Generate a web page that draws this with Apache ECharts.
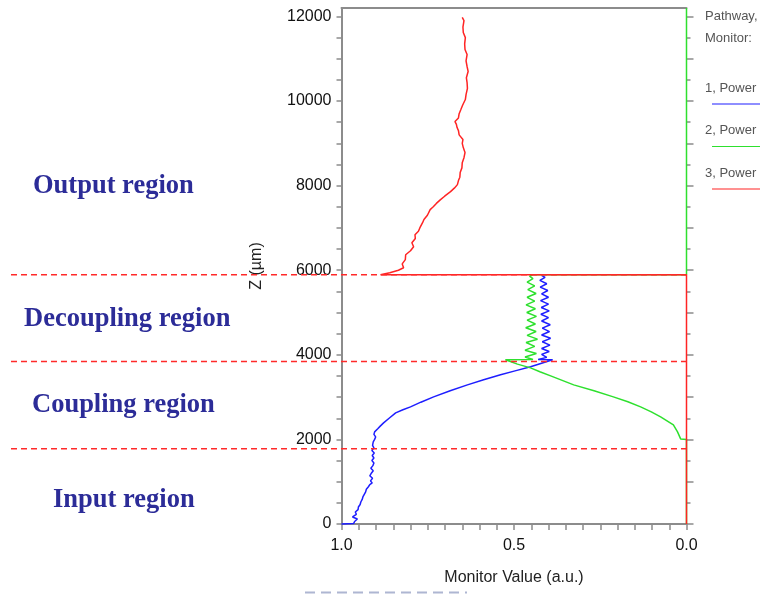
<!DOCTYPE html>
<html>
<head>
<meta charset="utf-8">
<script src="https://cdn.jsdelivr.net/npm/echarts@6/dist/echarts.min.js"></script>
<style>
html, body { margin: 0; padding: 0; background: #fff; }
#echart1 { width: 763px; height: 594px; }
</style>
</head>
<body>
<div id="echart1"></div>
<script>
// pathway monitors, [z (um), monitor value]
const seriesNames = ['1, Power', '2, Power', '3, Power'];
const seriesColors = ['#1e1eff', '#2ee02e', '#ff2424'];

const pathway1 = [
    [0, 1.000], [10, 0.965], [60, 0.962], [118, 0.954], [166, 0.968], [230, 0.957], [284, 0.960],
    [340, 0.952], [402, 0.951], [460, 0.946], [520, 0.944], [580, 0.940], [639, 0.938], [700, 0.934],
    [760, 0.930], [820, 0.928], [880, 0.922], [930, 0.918], [970, 0.911], [1020, 0.916], [1080, 0.910],
    [1140, 0.918], [1207, 0.913], [1260, 0.908], [1320, 0.915], [1380, 0.909], [1444, 0.906],
    [1500, 0.912], [1560, 0.906], [1620, 0.911], [1680, 0.905], [1740, 0.912], [1800, 0.906],
    [1860, 0.910], [1941, 0.908], [2000, 0.904], [2059, 0.901], [2120, 0.906], [2178, 0.904],
    [2250, 0.895], [2320, 0.887], [2390, 0.878], [2500, 0.862], [2627, 0.843], [2700, 0.822],
    [2769, 0.800], [2880, 0.770], [3006, 0.733], [3150, 0.685], [3290, 0.635], [3410, 0.588],
    [3527, 0.539], [3620, 0.497], [3716, 0.452], [3800, 0.420], [3882, 0.388],
    [3890, 0.430], [3940, 0.405], [4010, 0.420], [4080, 0.398], [4150, 0.420], [4230, 0.396],
    [4310, 0.418], [4390, 0.394], [4470, 0.420], [4550, 0.397], [4630, 0.418], [4710, 0.395],
    [4800, 0.420], [4880, 0.400], [4960, 0.422], [5040, 0.398], [5120, 0.421], [5200, 0.400],
    [5280, 0.423], [5360, 0.400], [5440, 0.420], [5520, 0.402], [5600, 0.424], [5680, 0.405],
    [5760, 0.425], [5830, 0.410], [5880, 0.420], [5893, 0.420]
];

const pathway2 = [
    [0, 0], [2000, 0], [2012, 0.017], [2178, 0.026], [2343, 0.038], [2533, 0.075], [2650, 0.102],
    [2769, 0.133], [2890, 0.170], [3006, 0.212], [3150, 0.268], [3290, 0.327], [3490, 0.390],
    [3600, 0.425], [3692, 0.452], [3780, 0.490], [3882, 0.525],
    [3890, 0.445], [3950, 0.468], [4030, 0.435], [4110, 0.468], [4200, 0.440], [4290, 0.465],
    [4370, 0.432], [4460, 0.462], [4550, 0.436], [4640, 0.466], [4730, 0.438], [4820, 0.462],
    [4910, 0.435], [5000, 0.463], [5090, 0.438], [5180, 0.465], [5270, 0.440], [5360, 0.462],
    [5450, 0.436], [5540, 0.460], [5630, 0.440], [5720, 0.462], [5800, 0.445], [5860, 0.455],
    [5893, 0.445], [5893, 0], [12200, 0]
];

const pathway3 = [
    [0, 0], [5893, 0], [5893, 0.887], [5940, 0.860], [6000, 0.835], [6059, 0.820], [6150, 0.824],
    [6250, 0.815], [6367, 0.814], [6460, 0.800], [6556, 0.791], [6650, 0.796], [6750, 0.786],
    [6840, 0.787], [6920, 0.777], [7000, 0.773], [7124, 0.765], [7200, 0.761], [7300, 0.751],
    [7432, 0.743], [7500, 0.734], [7580, 0.725], [7669, 0.713], [7750, 0.701], [7858, 0.684],
    [7940, 0.673], [8024, 0.664], [8120, 0.661], [8200, 0.657], [8308, 0.656], [8420, 0.651],
    [8544, 0.650], [8660, 0.645], [8781, 0.642], [8900, 0.647], [9000, 0.650], [9089, 0.648],
    [9200, 0.659], [9300, 0.661], [9373, 0.665], [9450, 0.667], [9515, 0.671], [9600, 0.661],
    [9700, 0.659], [9799, 0.654], [9900, 0.649], [10036, 0.641], [10150, 0.639], [10300, 0.635],
    [10438, 0.636], [10550, 0.638], [10700, 0.633], [10817, 0.636], [10950, 0.639], [11100, 0.636],
    [11219, 0.642], [11350, 0.643], [11500, 0.641], [11621, 0.647], [11750, 0.648], [11900, 0.645],
    [11976, 0.650]
];

const yTickLabels = [0, 2000, 4000, 6000, 8000, 10000, 12000];
const xTickLabels = [0, 0.5, 1];
const regionBounds = [1780, 3840, 5893];
const regionNames = ['Output region', 'Decoupling region', 'Coupling region', 'Input region'];
const legendHead = ['Pathway,', 'Monitor:'];

const dom = document.querySelector('#echart1');
const myChart = echarts.init(dom);

const axisGrey = '#8c8c8c';
const yTicks500 = [];
for (let v = 0; v <= 12000; v += 500) yTicks500.push(v);
const yTicks1000 = yTicks500.filter(v => v % 1000 === 0);
const xTicks = [];
for (let i = 0; i <= 20; i++) xTicks.push(+(i * 0.05).toFixed(2));

const toXY = arr => arr.map(p => [p[1], p[0]]);

const option = {
    animation: false,
    grid: { left: 341.5, right: 76.5, top: 8, bottom: 70 },
    xAxis: [
        {
            type: 'value', min: 0, max: 1, inverse: true, position: 'bottom',
            name: 'Monitor Value (a.u.)', nameLocation: 'middle', nameGap: 46,
            nameTextStyle: { fontFamily: 'Liberation Sans', fontSize: 16, color: '#222' },
            axisLine: { onZero: false, lineStyle: { color: axisGrey, width: 2 } },
            axisTick: { customValues: xTicks, length: 6, lineStyle: { color: axisGrey, width: 1.5 } },
            axisLabel: {
                customValues: xTickLabels, margin: 14,
                fontFamily: 'Liberation Sans', fontSize: 16, color: '#111',
                formatter: v => v.toFixed(1)
            },
            splitLine: { show: false }
        },
        {
            type: 'value', min: 0, max: 1, inverse: true, position: 'top',
            axisLine: { onZero: false, lineStyle: { color: axisGrey, width: 2 } },
            axisTick: { show: false }, axisLabel: { show: false }, splitLine: { show: false }
        }
    ],
    yAxis: [
        {
            type: 'value', min: 0, max: 12200, position: 'left',
            name: 'Z (µm)', nameLocation: 'middle', nameGap: 77, nameRotate: 90,
            nameTextStyle: { fontFamily: 'Liberation Sans', fontSize: 16, color: '#222' },
            axisLine: { onZero: false, lineStyle: { color: axisGrey, width: 2 } },
            axisTick: { customValues: yTicks500, length: 5, lineStyle: { color: axisGrey, width: 1.5 } },
            axisLabel: {
                customValues: yTickLabels, margin: 10,
                fontFamily: 'Liberation Sans', fontSize: 16, color: '#111',
                formatter: v => String(v)
            },
            splitLine: { show: false }
        },
        {
            type: 'value', min: 0, max: 12200, position: 'right',
            axisLine: { show: false, onZero: false },
            axisTick: { customValues: yTicks1000, length: 7, lineStyle: { color: axisGrey, width: 1.5 } },
            axisLabel: { show: false }, splitLine: { show: false }
        },
        {
            type: 'value', min: 0, max: 12200, position: 'right',
            axisLine: { show: false, onZero: false },
            axisTick: { customValues: yTicks500, length: 4, lineStyle: { color: axisGrey, width: 1.5 } },
            axisLabel: { show: false }, splitLine: { show: false }
        }
    ],
    series: [pathway1, pathway2, pathway3].map((d, i) => ({
        name: seriesNames[i],
        type: 'line',
        data: toXY(d),
        showSymbol: false,
        clip: false,
        lineStyle: { color: seriesColors[i], width: 1.5 },
        itemStyle: { color: seriesColors[i] }
    }))
};
myChart.setOption(option);

// boundaries and labels placed through the axes
const gridRight = myChart.convertToPixel({ xAxisIndex: 0 }, 0);
const graphics = [];
regionBounds.forEach(z => {
    const y = myChart.convertToPixel({ yAxisIndex: 0 }, z);
    graphics.push({
        type: 'line', z: 100,
        shape: { x1: 11, y1: y, x2: gridRight, y2: y },
        style: { stroke: '#ff2a2a', lineWidth: 1.5, lineDash: [6, 4] }
    });
});

const regionPos = [[33, 186], [24, 319], [32, 405], [53, 500]];
regionNames.forEach((t, i) => {
    graphics.push({
        type: 'text', x: regionPos[i][0], y: regionPos[i][1],
        style: {
            text: t, fill: '#2c2c98', font: 'bold 26.5px "Liberation Serif"',
            textVerticalAlign: 'middle'
        }
    });
});

legendHead.forEach((t, i) => {
    graphics.push({
        type: 'text', x: 705, y: 16 + i * 22,
        style: { text: t, fill: '#555', font: '13px "Liberation Sans"', textVerticalAlign: 'middle' }
    });
});
seriesNames.forEach((t, i) => {
    const y = 88 + i * 42.5;
    graphics.push({
        type: 'text', x: 705, y: y,
        style: { text: t, fill: '#555', font: '13px "Liberation Sans"', textVerticalAlign: 'middle' }
    });
    graphics.push({
        type: 'line',
        shape: { x1: 712, y1: y + 16, x2: 760, y2: y + 16 },
        style: { stroke: seriesColors[i], lineWidth: 1.2 }
    });
});

graphics.push({
    type: 'line',
    shape: { x1: 305, y1: 592.5, x2: 467, y2: 592.5 },
    style: { stroke: '#aeb6d2', lineWidth: 2, lineDash: [10, 6] }
});

myChart.setOption({ graphic: graphics });
</script>
</body>
</html>
